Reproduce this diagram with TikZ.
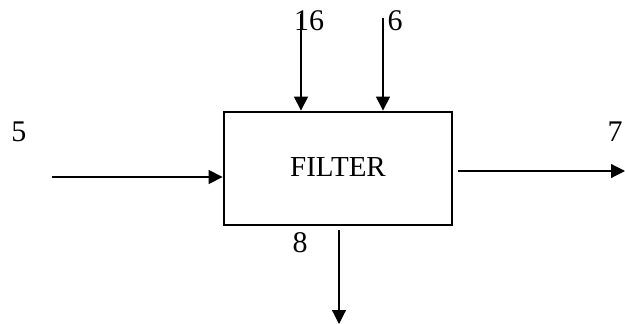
\documentclass[tikz,border=0pt]{standalone}
\usepackage{fontspec}
\setmainfont{Liberation Serif}
\usetikzlibrary{arrows.meta,calc}
\begin{document}
\begin{tikzpicture}[x=1pt,y=-1pt,
  boxstyle/.style={draw, line width=2.8pt, minimum width=228pt, minimum height=113pt, inner sep=0pt, font=\fontsize{29}{32}\selectfont},
  flow/.style={line width=1.2pt, -{Triangle[length=14pt,width=14pt]}},
  lbl/.style={inner sep=0pt, font=\fontsize{30}{34}\selectfont}]
\useasboundingbox (0,0) rectangle (625,324);
\node[boxstyle] (filter) at (338,168.5) {\raisebox{2pt}{FILTER}};
\coordinate (s16) at (301,14);
\coordinate (s6) at (383,18);
\coordinate (s5) at (52,177);
\coordinate (s7) at (458,171);
\coordinate (e7) at (625,171);
\coordinate (s8) at (339,230);
\coordinate (e8) at (339,324);
\draw[flow] (s16) -- (s16 |- filter.north);
\draw[flow] (s6) -- (s6 |- filter.north);
\draw[flow] (s5) -- (s5 -| filter.west);
\draw[flow] (s7) -- (e7);
\draw[flow] (s8) -- (e8);
\node[lbl] (l16) at (309,21) {16};
\node[lbl] (l6) at (395,21) {6};
\node[lbl] (l5) at (19,132) {5};
\node[lbl] (l7) at (615,132) {7};
\node[lbl] (l8) at (300,243) {8};
\end{tikzpicture}
\end{document}
